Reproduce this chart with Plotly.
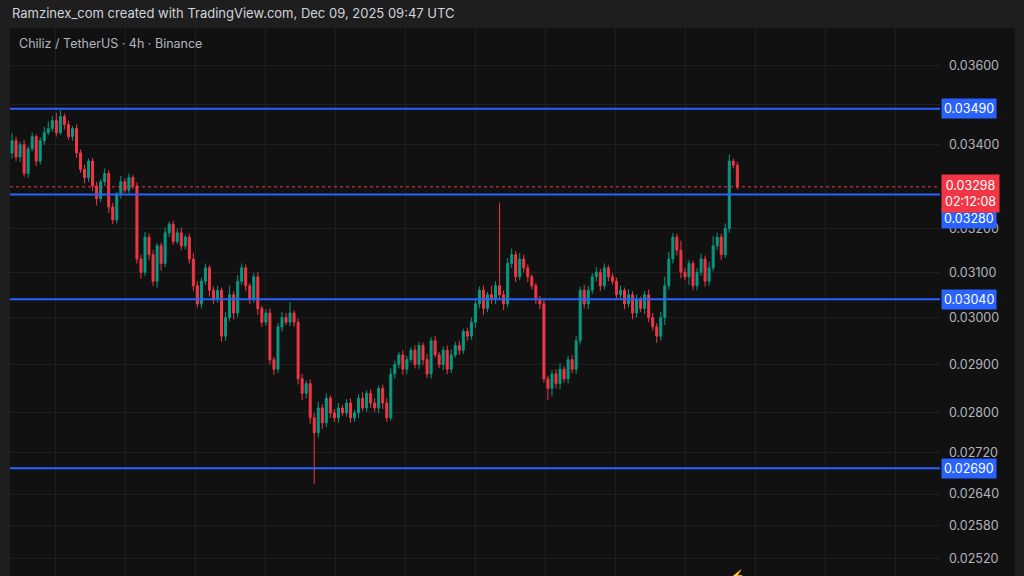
import plotly.graph_objects as go
import math

closes = [0.0341,0.0337,0.0340,0.0333,0.0339,0.0342,0.0336,0.0341,0.0343,0.0344,
          0.0346,0.0343,0.0347,0.0345,0.0342,0.0344,0.0338,0.0334,0.0332,0.0336,
          0.0330,0.0327,0.0331,0.0333,0.0325,0.0322,0.0328,0.0331,0.0329,0.0332,
          0.0330,0.0313,0.0310,0.0318,0.0314,0.0308,0.0316,0.0312,0.0319,0.0321,
          0.0317,0.0319,0.0316,0.0318,0.0313,0.0307,0.0303,0.0308,0.0311,0.0306,
          0.0304,0.0306,0.0296,0.0300,0.0305,0.0301,0.0308,0.0311,0.0307,0.0304,
          0.0309,0.0302,0.0299,0.0301,0.0291,0.0289,0.0298,0.0300,0.0299,0.0301,
          0.0299,0.0287,0.0284,0.0286,0.0279,0.0276,0.0281,0.0278,0.0283,0.0280,
          0.0279,0.0281,0.0280,0.0282,0.0279,0.0280,0.0283,0.0281,0.0284,0.0282,
          0.0281,0.0285,0.0282,0.0279,0.0288,0.0290,0.0292,0.0289,0.0291,0.0293,
          0.0290,0.0294,0.0291,0.0288,0.0295,0.0292,0.0290,0.0293,0.0289,0.0292,
          0.0294,0.0293,0.0297,0.0296,0.0299,0.0303,0.0306,0.0302,0.0305,0.0304,
          0.0307,0.0305,0.0303,0.0312,0.0314,0.0309,0.0313,0.0311,0.0309,0.0307,
          0.0304,0.0303,0.0287,0.0285,0.0288,0.0286,0.0289,0.0287,0.0291,0.0289,
          0.0295,0.0306,0.0303,0.0306,0.0309,0.0310,0.0307,0.0311,0.0309,0.0308,
          0.0305,0.0306,0.0303,0.0305,0.0301,0.0304,0.0302,0.0305,0.0300,0.0298,
          0.0296,0.0300,0.0307,0.0313,0.0318,0.0315,0.0310,0.0309,0.0312,0.0307,
          0.0310,0.0313,0.0308,0.0311,0.0316,0.0318,0.0314,0.0320,0.0336,0.0335,
          0.03298]
first_open = 0.0338
# wick sizes in units of 1e-5
upper_wick = [20,10,8,12,6,10,5,8,14,18, 12,20,16,8,10,6,10,8,12,6,
              8,10,6,12,8,10,6,14,8,10, 6,8,10,12,8,10,6,8,12,6,
              8,10,12,6,8,14,10,8,10,6, 8,10,6,12,20,8,14,10,8,6,
              8,10,6,8,10,6,8,12,10,24, 6,8,10,6,8,10,12,8,10,6,
              8,10,6,8,10,6,8,12,6,8, 10,6,8,10,12,8,6,10,8,6,
              10,8,6,12,8,10,6,8,10,12, 8,10,6,8,10,12,8,10,6,20,
              10,190,10,12,14,8,14,10,8,6, 6,8,10,6,8,10,12,6,8,10,
              10,8,12,10,8,12,8,10,6,8, 8,10,6,12,8,10,6,8,12,10,
              8,12,20,16,10,8,22,10,8,6, 10,12,8,14,22,10,8,12,16,6,
              8]
lower_wick = [14,10,12,8,10,6,12,8,10,6, 8,10,6,12,8,10,12,8,14,10,
              12,16,8,10,14,10,8,10,6,8, 8,10,14,8,12,10,14,16,8,10,
              8,6,10,8,10,12,8,10,8,14, 10,8,12,10,8,14,10,8,12,10,
              8,14,10,8,10,12,8,10,6,8, 10,12,14,10,12,100,10,12,8,10,
              8,10,6,8,10,8,10,6,8,10, 8,10,12,8,6,10,8,12,10,6,
              8,10,12,8,10,6,8,12,10,8, 6,10,8,10,8,12,10,14,8,10,
              10,12,14,8,10,12,8,10,12,8, 10,12,8,24,16,10,12,8,10,8,
              10,8,10,12,8,10,12,8,10,8, 8,10,12,8,14,10,8,12,10,8,
              14,10,16,8,10,12,14,8,18,10, 10,8,12,10,8,10,12,8,10,8,
              6]
levels = [0.03490, 0.03280, 0.03040, 0.02690]
level_label_shift = [0, -24, 0, 0]
tick_vals = [0.0360, 0.0350, 0.0340, 0.0320, 0.0310, 0.0300, 0.0290, 0.0280, 0.0272, 0.0264, 0.0258, 0.0252]
tick_text = ["0.03600", "", "0.03400", "0.03200", "0.03100", "0.03000", "0.02900", "0.02800",
             "0.02720", "0.02640", "0.02580", "0.02520"]
last_price = 0.03298
countdown = "02:12:08"

opens = [first_open] + closes[:-1]
highs = [max(o, c) + u * 1e-5 for o, c, u in zip(opens, closes, upper_wick)]
lows = [min(o, c) - l * 1e-5 for o, c, l in zip(opens, closes, lower_wick)]
idx = list(range(len(closes)))

fig = go.Figure()
fig.add_trace(go.Candlestick(
    x=idx, open=opens, high=highs, low=lows, close=closes,
    increasing=dict(line=dict(color="#089981", width=1), fillcolor="#089981"),
    decreasing=dict(line=dict(color="#f23645", width=1), fillcolor="#f23645"),
    whiskerwidth=0, showlegend=False, hoverinfo="skip"))

shapes = []
for lv in levels:
    shapes.append(dict(type="line", xref="paper", x0=0, x1=1, yref="y", y0=lv, y1=lv,
                       line=dict(color="#2962ff", width=2)))
shapes.append(dict(type="line", xref="paper", x0=0, x1=1, yref="y", y0=last_price, y1=last_price,
                   line=dict(color="#f23645", width=1, dash="dot")))
shapes.append(dict(type="rect", xref="paper", yref="paper", x0=-0.02, x1=1.1, y0=1, y1=1.1,
                   fillcolor="#1e1e1e", line=dict(width=0), layer="below"))
shapes.append(dict(type="rect", xref="paper", yref="paper", x0=-0.02, x1=0, y0=-0.02, y1=1.1,
                   fillcolor="#1e1e1e", line=dict(width=0), layer="below"))
shapes.append(dict(type="rect", xref="paper", yref="paper", x0=1.0806, x1=1.1, y0=-0.02, y1=1.1,
                   fillcolor="#1e1e1e", line=dict(width=0), layer="below"))

annotations = [
    dict(text="Ramzinex_com created with TradingView.com, Dec 09, 2025 09:47 UTC",
         xref="paper", yref="paper", x=0.0, y=1.027, xanchor="left", yanchor="middle",
         showarrow=False, font=dict(color="#d1d4dc", size=13)),
    dict(text="Chiliz / TetherUS · 4h · Binance", xref="paper", yref="paper", x=0.008, y=0.971,
         xanchor="left", yanchor="middle", showarrow=False, font=dict(color="#b2b5be", size=12.5)),
]
for lv, sh in zip(levels, level_label_shift):
    annotations.append(dict(text=f"{lv:.5f}", xref="paper", yref="y", x=1.001, y=math.log10(lv),
                            yshift=sh, xanchor="left", yanchor="middle", showarrow=False,
                            bgcolor="#2962ff", borderpad=2, font=dict(color="white", size=12.5)))
annotations.append(dict(text=f"{last_price:.5f}<br>{countdown}", xref="paper", yref="y", x=1.001,
                        y=math.log10(last_price), yshift=-7, xanchor="left", yanchor="middle",
                        showarrow=False, bgcolor="#f23645", borderpad=3,
                        font=dict(color="white", size=12.5)))
annotations.append(dict(text="⚡", xref="x", yref="paper", x=180, y=0.0, yanchor="middle",
                        showarrow=False, font=dict(color="#9c27b0", size=13)))

fig.update_layout(
    width=1024, height=576, margin=dict(l=10, r=84, t=28, b=0),
    paper_bgcolor="#111111", plot_bgcolor="#111111",
    font=dict(family="Inter, Roboto, sans-serif"),
    shapes=shapes, annotations=annotations,
    xaxis=dict(range=[-0.5, 230.3], rangeslider=dict(visible=False), showticklabels=False,
               showgrid=True, gridcolor="#1f1f1f", tick0=10.7, dtick=17.37, zeroline=False,
               ticks=""),
    yaxis=dict(type="log", side="right", range=[math.log10(0.02488), math.log10(0.0370)],
               tickvals=tick_vals, ticktext=tick_text, showgrid=True, gridcolor="#1f1f1f",
               tickfont=dict(color="#b2b5be", size=12.5), ticks="", ticklabelstandoff=8,
               zeroline=False),
)
fig.write_html("out.html", config={"displayModeBar": False},
               post_script="document.body.style.margin='0';document.body.style.background='#1e1e1e';document.body.style.overflow='hidden';")
